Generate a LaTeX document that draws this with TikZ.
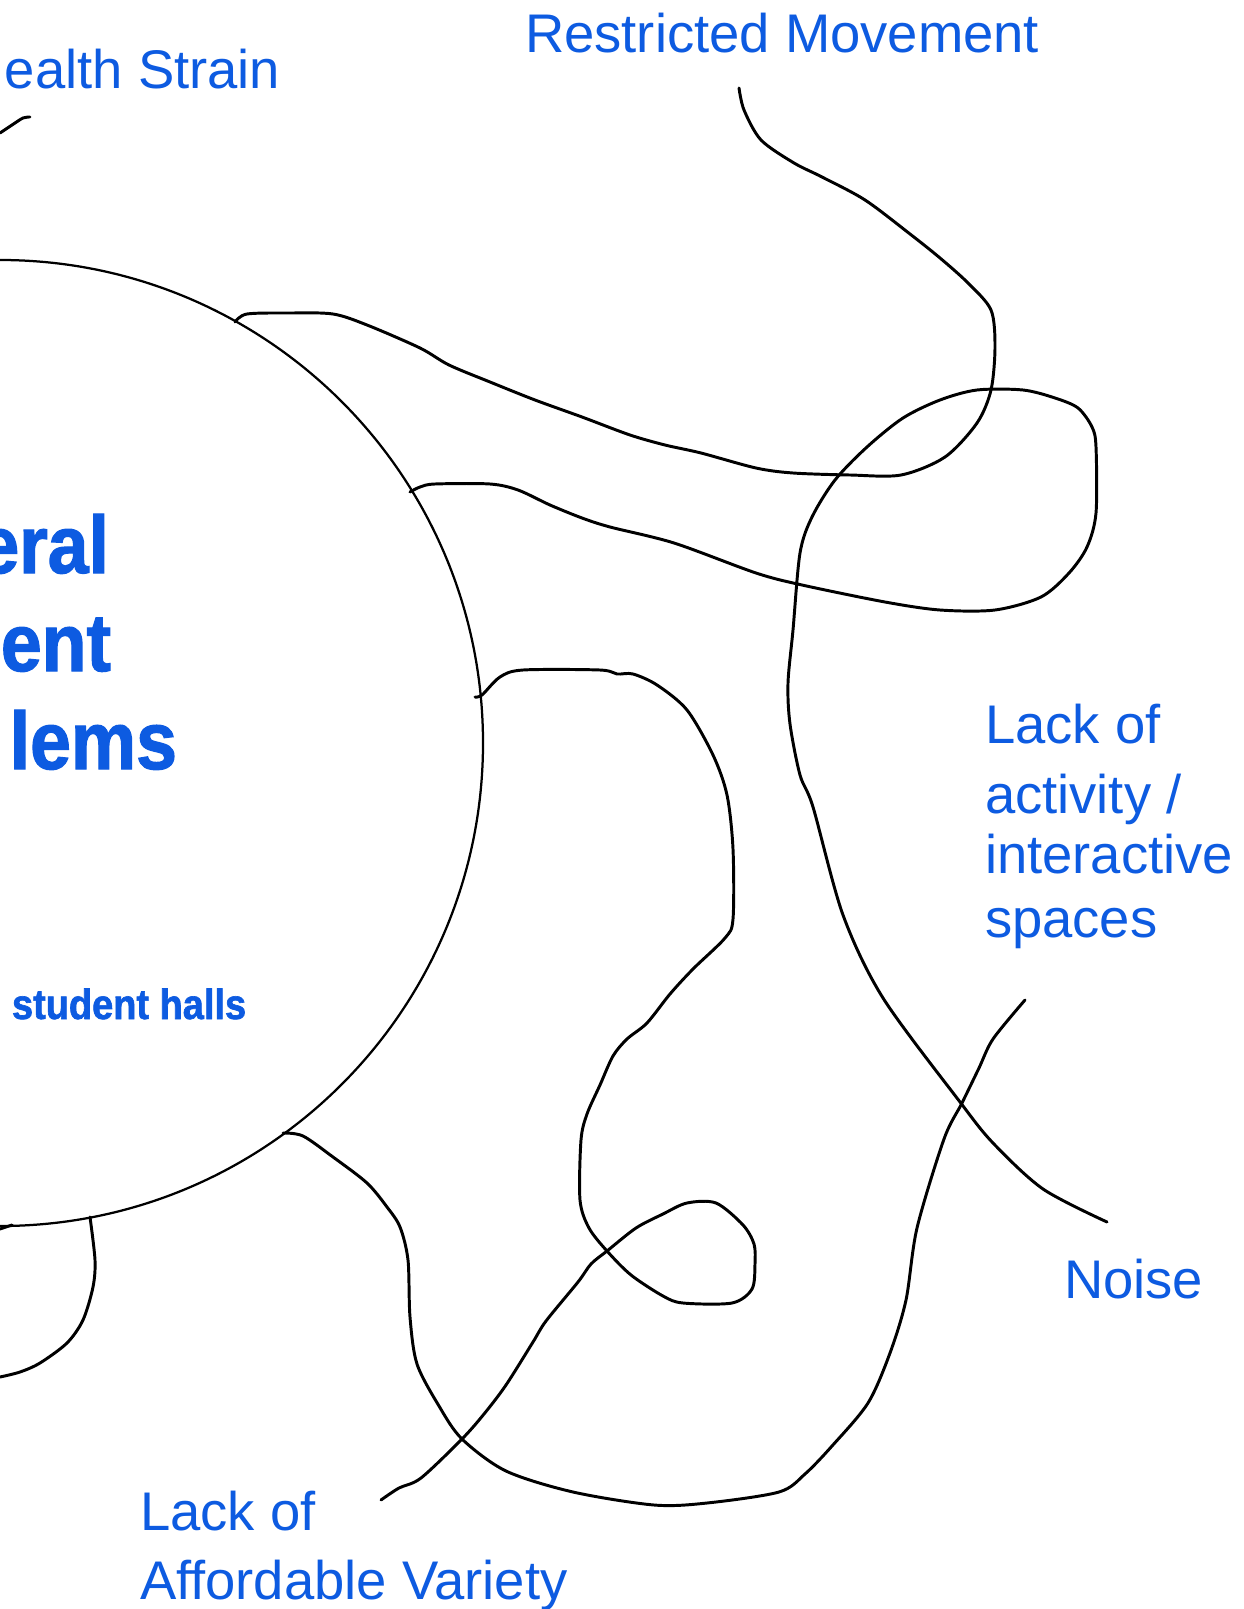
\documentclass[tikz,border=0pt]{standalone}
\usepackage{fontspec}
\setmainfont{Liberation Sans}
\newfontfamily\heavy{Liberation Sans}[FakeStretch=0.9, BoldFeatures={FakeBold=1.5}]
\definecolor{inkblue}{RGB}{13,91,225}
\begin{document}
\begin{tikzpicture}[x=0.025cm,y=-0.025cm,
  stroke/.style={line width=2.1pt, line cap=round, line join=round},
  rim/.style={line width=1.6pt},
  lbl/.style={anchor=base west, inner sep=0pt, outer sep=0pt, text=inkblue, font=\fontsize{38.7}{46}\selectfont},
  bigt/.style={anchor=base east, inner sep=0pt, outer sep=0pt, text=inkblue, font=\heavy\bfseries\fontsize{58}{70}\selectfont},
  smallb/.style={anchor=base west, inner sep=0pt, outer sep=0pt, text=inkblue, font=\heavy\bfseries\fontsize{30}{36}\selectfont}]
\useasboundingbox (0,0) rectangle (1243,1609);
\fill[white] (0,0) rectangle (1243,1609);
\clip (0,0) rectangle (1243,1609);

% main circle
\draw[rim] (0,743) circle (483);

% labels
\node[lbl] (health) at (5,89) {ealth Strain};
\node[lbl] (restr) at (525,53) {Restricted Movement};
\node[lbl] (act1) at (985,743) {Lack of};
\node[lbl] (act2) at (985,813) {activity /};
\node[lbl] (act3) at (985,873) {interactive};
\node[lbl] (act4) at (985,937) {spaces};
\node[lbl] (noise) at (1064,1298) {Noise};
\node[lbl] (aff1) at (140,1530) {Lack of};
\node[lbl] (aff2) at (140,1599) {Affordable Variety};
\node[bigt] (g1) at (109,573) {eral};
\node[bigt] (g2) at (111,671) {ent};
\node[bigt] (g3) at (177,769) {lems};
\node[smallb] (halls) at (12,1019) {student halls};

% Health Strain stub
\draw[stroke] plot[smooth, tension=0.5] coordinates {(0,133) (12,125) (23,118) (30,117)};

% curve to Restricted Movement
\draw[stroke] plot[smooth, tension=0.5] coordinates {
 (235,322) (247,314) (290,313) (333,314) (367,325) (420,348) (449,365) (490,382)
 (535,400) (582,417) (630,435) (665,445) (701,453) (756,468) (793,473) (850,475)
 (901,475) (945,457) (977,423) (991,390) (995,347) (991,310) (968,283) (940,258)
 (910,234) (865,200) (822,177) (794,163) (761,140) (744,110) (739,88)};

% loop curve to Noise
\draw[stroke] plot[smooth, tension=0.5] coordinates {
 (410,492) (420,487) (435,484) (490,484) (518,490) (550,505) (582,518) (610,527)
 (674,543) (756,573) (802,585) (885,602) (940,610) (995,610) (1041,597) (1069,573)
 (1087,547) (1096,513) (1096,447) (1092,427) (1078,408) (1055,398) (1023,390)
 (977,390) (940,400) (903,418) (867,447) (835,480) (812,517) (800,553) (793,630)
 (788,683) (790,724) (800,775) (813,807) (843,915) (883,998) (960,1102) (993,1143)
 (1043,1189) (1107,1222)};

% squiggle to Lack of Affordable Variety
\draw[stroke] plot[smooth, tension=0.5] coordinates {
 (475,697) (482,695) (500,677) (523,670) (600,670) (617,674) (633,674) (657,685)
 (687,710) (713,755) (727,795) (733,849) (733,919) (725,938) (693,969) (670,994)
 (647,1023) (627,1039) (613,1056) (600,1085) (587,1114) (581,1140) (580,1200)
 (589,1228) (607,1251) (631,1275) (663,1296) (683,1303) (732,1303) (752,1289)
 (755,1264) (754,1244) (743,1225) (716,1203) (687,1203) (663,1214) (636,1228)
 (607,1251) (591,1264) (578,1282) (546,1321) (533,1342) (506,1385) (484,1414)
 (462,1439) (421,1478) (399,1488) (381,1500)};

% bottom U curve
\draw[stroke] plot[smooth, tension=0.5] coordinates {
 (283,1133) (303,1136) (333,1157) (367,1183) (387,1207) (400,1227) (408,1260)
 (410,1317) (417,1364) (439,1406) (462,1439) (506,1471) (573,1492) (654,1505)
 (707,1503) (779,1492) (805,1474) (832,1446) (868,1403) (890,1353) (906,1300)
 (917,1228) (944,1139) (962,1103) (979,1068) (993,1039) (1025,1000)};

% bottom-left arc
\draw[stroke] plot[smooth, tension=0.5] coordinates {
 (90,1217) (95,1260) (93,1287) (83,1320) (67,1343) (40,1363) (20,1372) (0,1377)};
\draw[stroke] (0,1229) -- (12,1225);
\end{tikzpicture}
\end{document}
